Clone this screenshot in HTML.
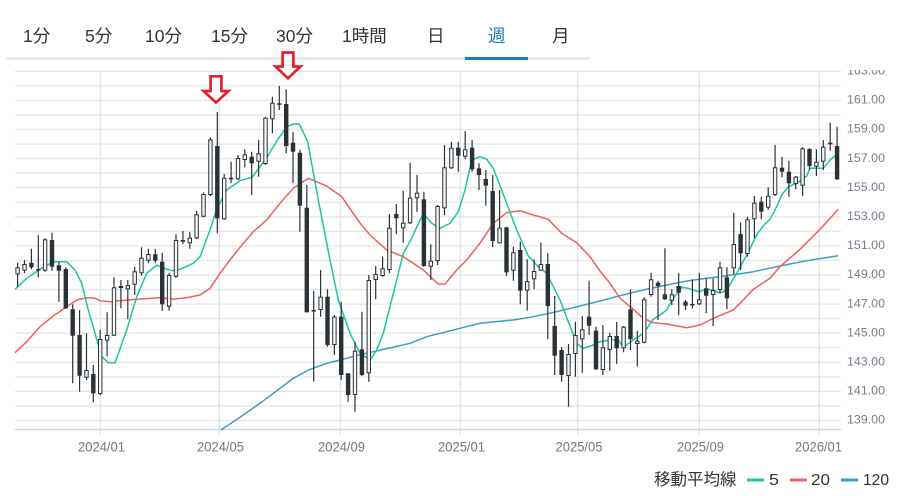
<!DOCTYPE html>
<html><head><meta charset="utf-8"><style>
html,body{margin:0;padding:0;background:#fff;width:908px;height:496px;overflow:hidden}
svg{display:block;font-family:"Liberation Sans","Noto Sans CJK JP",sans-serif}
</style></head><body>
<svg width="908" height="496" viewBox="0 0 908 496" xmlns="http://www.w3.org/2000/svg">
<defs><clipPath id="lc"><rect x="840" y="70" width="68" height="380"/></clipPath></defs>
<!-- tabs -->
<g font-size="17.5" fill="#333">
<text x="23" y="42">1分</text>
<text x="85" y="42">5分</text>
<text x="145" y="42">10分</text>
<text x="211" y="42">15分</text>
<text x="276" y="42">30分</text>
<text x="342" y="42">1時間</text>
<text x="427" y="42">日</text>
<text x="488" y="42" fill="#1a7cc2">週</text>
<text x="552" y="42">月</text>
</g>
<rect x="6" y="57" width="584" height="3" fill="#ebebeb"/>
<rect x="465" y="57" width="63" height="3" fill="#1a7cc2"/>
<!-- horizontal grid -->
<path fill="none" stroke="#e6e6e6" stroke-width="1.3" d="M15 71.3H841M15 85.85H841M15 100.4H841M15 114.95H841M15 129.5H841M15 144.05H841M15 158.6H841M15 173.15H841M15 187.7H841M15 202.25H841M15 216.8H841M15 231.35H841M15 245.9H841M15 260.45H841M15 275H841M15 289.55H841M15 304.1H841M15 318.65H841M15 333.2H841M15 347.75H841M15 362.3H841M15 376.85H841M15 391.4H841M15 405.95H841M15 420.5H841"/>
<!-- vertical grid -->
<path fill="none" stroke="#dfe3ec" stroke-width="1.3" d="M100.3 70V436M219.3 70V436M340.3 70V436M460.3 70V436M577.7 70V436M699.3 70V436M819.3 70V436"/>
<line x1="15" y1="429.5" x2="841" y2="429.5" stroke="#cfd6e4" stroke-width="1.5"/>
<!-- right labels -->
<g font-size="12" fill="#767e8c" clip-path="url(#lc)">
<text x="847" y="74.5" textLength="38" lengthAdjust="spacingAndGlyphs">163.00</text>
<text x="847" y="103.6" textLength="38" lengthAdjust="spacingAndGlyphs">161.00</text>
<text x="847" y="132.7" textLength="38" lengthAdjust="spacingAndGlyphs">159.00</text>
<text x="847" y="161.8" textLength="38" lengthAdjust="spacingAndGlyphs">157.00</text>
<text x="847" y="190.9" textLength="38" lengthAdjust="spacingAndGlyphs">155.00</text>
<text x="847" y="220" textLength="38" lengthAdjust="spacingAndGlyphs">153.00</text>
<text x="847" y="249.1" textLength="38" lengthAdjust="spacingAndGlyphs">151.00</text>
<text x="847" y="278.2" textLength="38" lengthAdjust="spacingAndGlyphs">149.00</text>
<text x="847" y="307.3" textLength="38" lengthAdjust="spacingAndGlyphs">147.00</text>
<text x="847" y="336.4" textLength="38" lengthAdjust="spacingAndGlyphs">145.00</text>
<text x="847" y="365.5" textLength="38" lengthAdjust="spacingAndGlyphs">143.00</text>
<text x="847" y="394.6" textLength="38" lengthAdjust="spacingAndGlyphs">141.00</text>
<text x="847" y="423.7" textLength="38" lengthAdjust="spacingAndGlyphs">139.00</text>
</g>
<!-- bottom labels -->
<g font-size="13.5" fill="#6f7785" text-anchor="middle">
<text x="101.5" y="451.5" textLength="47" lengthAdjust="spacingAndGlyphs">2024/01</text>
<text x="220.5" y="451.5" textLength="47" lengthAdjust="spacingAndGlyphs">2024/05</text>
<text x="341.5" y="451.5" textLength="47" lengthAdjust="spacingAndGlyphs">2024/09</text>
<text x="461.5" y="451.5" textLength="47" lengthAdjust="spacingAndGlyphs">2025/01</text>
<text x="579" y="451.5" textLength="47" lengthAdjust="spacingAndGlyphs">2025/05</text>
<text x="700.5" y="451.5" textLength="47" lengthAdjust="spacingAndGlyphs">2025/09</text>
<text x="818.5" y="451.5" textLength="47" lengthAdjust="spacingAndGlyphs">2026/01</text>
</g>
<!-- moving averages -->
<polyline fill="none" stroke="#3d9dc4" stroke-width="1.5" points="221,430 240,417.3 260,403.3 280,388.3 293.3,378.3 308.3,370 326.7,363.3 340,360 360,354.7 373.3,351.7 410,343.3 426.7,336.7 460,328.3 480,323.3 513.3,320 533.3,316.7 556.7,311.7 580,306 600,301 620,295.7 643.3,290 666.7,285 686.7,281 706.7,278.3 720,276.7 753.3,271.7 780,266 806.7,260.7 838.3,255.7"/>
<polyline fill="none" stroke="#f0605d" stroke-width="1.5" points="15,352.7 26.7,341.7 40,326.7 53.3,316 66.7,306.7 76.7,300 86.7,297.7 95,298.3 100,300.7 110,301.7 120,300.7 140,299 160,297.7 173.3,299.3 186.7,297.7 200,295 210,288.3 220,273.3 230,260 240,247.3 253.3,231.7 266.7,220 280,203.3 293.3,188.3 308.3,178.3 326.7,186 341.7,196.7 360,223 370,235 386.7,250 403.3,256.7 423.3,270 438.3,284 445,284 456.7,270 466.7,260 480,243 493.3,223.3 506.7,212.7 520,210.7 533.3,215 548.3,219.3 561.7,233.3 576.7,242.7 590,256.7 600,271 610,283.3 620,298.3 633.3,309.3 643.3,318.3 653.3,322.7 666.7,324 686.7,327.7 700,325 710,320 720,315.5 733.3,310 740,303.3 753.3,289.3 770,278.3 780,266.7 800,249.3 820,229.3 838.3,209.3"/>
<polyline fill="none" stroke="#1bc6a0" stroke-width="1.5" points="15,289.3 26.7,278.3 40,269.3 53.3,261.7 66.7,261.7 75,270 81.7,283.3 88.3,310 95,333.3 101.7,356.7 108.3,362.7 115,362.7 126.7,330 136.7,296.7 146.7,273.3 156.7,265 166.7,269.3 173.3,270.7 180,269.3 193.3,263.3 200,256.7 210,230 216.7,209.3 226.7,190 240,180.7 252,177.3 266.7,158 278,139 287,126.5 293.3,124 299.3,124 307.7,141.7 318.3,200 330,260 338.3,300 350,333.3 360,353.3 370,360 376.7,350 383.3,333.3 390,306.7 396.7,280 403.3,253.3 410,241.7 423.3,213.3 431.7,223.3 440,228.3 450,223.3 458.3,211.7 465,190 471.7,160 480,156.7 486.7,159.3 493.3,168.3 506.7,203.3 516.7,230 528.3,256 538.3,266.7 546.7,273.3 560,300 568.3,321.7 576.7,343.3 583.3,348.3 593.3,345 600,341.7 610,340 618.3,340 623.3,347.3 633.3,340 643.3,333.3 653.3,319.3 660,315 666.7,310 673.3,298.3 681.7,287.3 688.3,288.3 698.3,291.7 706.7,289.3 713,290 720,293 726.7,290 736.7,273.3 746.7,255 756.7,235 763.3,225.7 770,219.3 776.7,206.7 781.7,195 788.3,186.7 796.7,183.3 806.7,176 810,168.3 818.3,168.3 823.3,168.3 830,160 836,155"/>
<!-- wicks -->
<path fill="none" stroke="#2b3237" stroke-width="1.2" d="M17.6 262.7V286.7M24.5 260V273.3M31.4 248.7V269.3M38.3 235.3V277.3M45.1 238.3V271.7M52 232.7V270.7M58.9 261.7V301.7M65.8 267.3V309M72.7 304.3V383.3M79.6 310V391.7M86.5 333.3V380M93.3 365V402.3M100.2 330V395M107.1 312.3V356M114 277.3V336M120.9 280V308.3M127.8 280V319.3M134.7 266.7V295M141.5 247.3V275.7M148.4 248.7V263.3M155.3 248.7V263.3M162.2 252.7V311M169.1 272.7V310.7M176 234.3V278M182.9 231V244.3M189.8 232V248.7M196.6 211V239M203.5 192.3V217.3M210.4 137.3V196M217.3 112V233.3M224.2 174V220M231.1 161.7V183.3M238 155V180M244.8 149.3V167.3M251.7 151.7V195M258.6 140V176.7M265.5 116.7V165M272.4 96.7V133.3M279.3 86V110M286.2 89.3V153.3M293 132V183M299.9 150V231.7M306.8 185V312.3M313.7 291V381.7M320.6 270V316.7M327.5 289.3V346.7M334.4 315V355M341.2 301.7V380M348.1 373.3V401.7M355 341.7V411.7M361.9 311.7V376M368.8 275V381.7M375.7 266V299.3M382.6 256.7V276.7M389.4 214V273.3M396.3 204V234M403.2 191V242.7M410.1 162.7V224M417 175V211.7M423.9 191.7V266.7M430.8 244.3V280M437.6 205V265M444.5 145V215M451.4 141.7V169M458.3 141.7V171.7M465.2 131V159.3M472.1 140V171.7M479 163.3V190M485.8 170V205.7M492.7 175V247.3M499.6 190V243.3M506.5 226.7V276M513.4 246.7V280.7M520.3 241.7V304.3M527.2 259.3V310.7M534.1 259.3V289.3M540.9 242.7V270.7M547.8 253.3V339.3M554.7 296V375M561.6 347.3V381.7M568.5 344V406.7M575.4 321.7V376.7M582.3 316V372.7M589.1 280.7V335M596 326.7V370M602.9 325V375M609.8 332.7V370.7M616.7 321.7V364M623.6 326V352.3M630.5 289.3V350M637.3 330.7V366.7M644.2 297.3V343.3M651.1 272.7V296.7M658 280.7V320M664.9 248.3V300M671.8 289.3V305M678.7 273.3V315M685.5 300V310M692.4 279.3V308.3M699.3 272.7V305M706.2 278.3V313.3M713.1 278.3V326M720 261.7V293M726.9 267.3V309.3M733.8 212.7V274.3M740.6 222.7V270M747.5 216.7V256.7M754.4 196V238.3M761.3 196.7V219.3M768.2 187.3V210M775.1 145V196M782 156.7V177.3M788.9 160.7V196.7M795.7 176V189.3M802.6 147.3V196M809.5 148.3V170M816.4 149.3V176M823.3 140V170M830.2 122.7V150.7M837.1 126.7V180"/>
<!-- dark bodies -->
<g fill="#2b3237">
<rect x="29.2" y="262.7" width="4.4" height="4.6"/><rect x="36.1" y="269" width="4.4" height="1.5"/><rect x="49.8" y="240" width="4.4" height="26.7"/><rect x="56.7" y="265.3" width="4.4" height="5.4"/><rect x="63.6" y="269" width="4.4" height="39.3"/><rect x="70.5" y="309.3" width="4.4" height="26.4"/><rect x="77.4" y="335" width="4.4" height="40.7"/><rect x="91.1" y="374" width="4.4" height="19.3"/><rect x="118.7" y="286" width="4.4" height="2"/><rect x="153.1" y="254.3" width="4.4" height="6.4"/><rect x="160" y="261.7" width="4.4" height="42.6"/><rect x="180.7" y="240" width="4.4" height="1.7"/><rect x="215.1" y="146" width="4.4" height="72.3"/><rect x="228.9" y="177.7" width="4.4" height="1.6"/><rect x="249.5" y="156.7" width="4.4" height="6.6"/><rect x="277.1" y="103.3" width="4.4" height="1.5"/><rect x="284" y="104" width="4.4" height="42"/><rect x="290.8" y="142.7" width="4.4" height="9"/><rect x="297.7" y="152.7" width="4.4" height="53"/><rect x="304.6" y="207.7" width="4.4" height="104.6"/><rect x="311.5" y="310" width="4.4" height="1.5"/><rect x="325.3" y="296.7" width="4.4" height="48.3"/><rect x="339" y="316.7" width="4.4" height="58.3"/><rect x="345.9" y="373.3" width="4.4" height="21.7"/><rect x="359.7" y="349.3" width="4.4" height="25.7"/><rect x="394.1" y="214" width="4.4" height="4.3"/><rect x="421.7" y="199.3" width="4.4" height="66.7"/><rect x="456.1" y="147.7" width="4.4" height="8"/><rect x="469.9" y="147.7" width="4.4" height="21.6"/><rect x="476.8" y="168.3" width="4.4" height="6.7"/><rect x="483.6" y="179" width="4.4" height="6.7"/><rect x="490.5" y="191" width="4.4" height="50"/><rect x="504.3" y="227.3" width="4.4" height="45"/><rect x="518.1" y="250" width="4.4" height="40.7"/><rect x="545.6" y="264" width="4.4" height="42"/><rect x="552.5" y="326" width="4.4" height="29.7"/><rect x="559.4" y="350" width="4.4" height="25"/><rect x="586.9" y="316.7" width="4.4" height="9"/><rect x="593.8" y="330.7" width="4.4" height="38.6"/><rect x="614.5" y="336" width="4.4" height="12.3"/><rect x="628.3" y="309.3" width="4.4" height="30"/><rect x="655.8" y="282.7" width="4.4" height="3.3"/><rect x="662.7" y="294.3" width="4.4" height="5"/><rect x="676.5" y="286" width="4.4" height="6.7"/><rect x="683.3" y="301.7" width="4.4" height="4"/><rect x="690.2" y="304" width="4.4" height="1.5"/><rect x="704" y="288.3" width="4.4" height="7.4"/><rect x="724.7" y="277.3" width="4.4" height="21"/><rect x="738.4" y="234" width="4.4" height="19.3"/><rect x="759.1" y="201.7" width="4.4" height="10"/><rect x="779.8" y="167.7" width="4.4" height="4"/><rect x="786.7" y="171.7" width="4.4" height="11.6"/><rect x="807.3" y="149" width="4.4" height="17"/><rect x="828" y="142.7" width="4.4" height="1.6"/><rect x="834.9" y="146" width="4.4" height="33.3"/>
</g>
<!-- hollow bodies -->
<g fill="#f6f6f6" stroke="#2b3237" stroke-width="1">
<rect x="15.9" y="267.8" width="3.4" height="6"/><rect x="22.8" y="264.5" width="3.4" height="5.7"/><rect x="43.4" y="239.8" width="3.4" height="30.4"/><rect x="84.8" y="370.5" width="3.4" height="6.7"/><rect x="98.5" y="339.5" width="3.4" height="54"/><rect x="105.4" y="335.5" width="3.4" height="4.7"/><rect x="112.3" y="287.8" width="3.4" height="47.4"/><rect x="126.1" y="285.5" width="3.4" height="3.3"/><rect x="133" y="271.8" width="3.4" height="12.4"/><rect x="139.8" y="258.2" width="3.4" height="14.6"/><rect x="146.7" y="254.5" width="3.4" height="5.7"/><rect x="167.4" y="275.5" width="3.4" height="30.7"/><rect x="174.3" y="240.5" width="3.4" height="35.7"/><rect x="188.1" y="238.2" width="3.4" height="4.6"/><rect x="194.9" y="214.8" width="3.4" height="23"/><rect x="201.8" y="194.5" width="3.4" height="21.7"/><rect x="208.7" y="139.8" width="3.4" height="54.7"/><rect x="222.5" y="178.2" width="3.4" height="40.6"/><rect x="236.3" y="158.5" width="3.4" height="20.3"/><rect x="243.1" y="154.8" width="3.4" height="4.7"/><rect x="256.9" y="153.8" width="3.4" height="7.4"/><rect x="263.8" y="118.2" width="3.4" height="45.3"/><rect x="270.7" y="103.2" width="3.4" height="15.6"/><rect x="318.9" y="297.2" width="3.4" height="12.3"/><rect x="332.7" y="317.2" width="3.4" height="27.3"/><rect x="353.3" y="351.2" width="3.4" height="43.3"/><rect x="367.1" y="280.5" width="3.4" height="92.3"/><rect x="374" y="274.5" width="3.4" height="5"/><rect x="380.9" y="268.8" width="3.4" height="6.7"/><rect x="387.7" y="228.2" width="3.4" height="41.3"/><rect x="401.5" y="223.2" width="3.4" height="4.6"/><rect x="408.4" y="198.2" width="3.4" height="24.6"/><rect x="415.3" y="193.2" width="3.4" height="4.6"/><rect x="429.1" y="261.2" width="3.4" height="5"/><rect x="435.9" y="206.5" width="3.4" height="54"/><rect x="442.8" y="167.8" width="3.4" height="40"/><rect x="449.7" y="148.2" width="3.4" height="19.6"/><rect x="463.5" y="149.8" width="3.4" height="6.4"/><rect x="497.9" y="228.2" width="3.4" height="14.6"/><rect x="511.7" y="252.8" width="3.4" height="17.4"/><rect x="525.5" y="281.5" width="3.4" height="8.7"/><rect x="532.4" y="271.5" width="3.4" height="7.3"/><rect x="539.2" y="264.5" width="3.4" height="5.7"/><rect x="566.8" y="354.5" width="3.4" height="21"/><rect x="573.7" y="335.5" width="3.4" height="18"/><rect x="580.6" y="329.8" width="3.4" height="9"/><rect x="601.2" y="347.8" width="3.4" height="21.7"/><rect x="608.1" y="336.5" width="3.4" height="13"/><rect x="621.9" y="327.2" width="3.4" height="20.6"/><rect x="635.6" y="341.2" width="3.4" height="2.3"/><rect x="642.5" y="299.8" width="3.4" height="42.4"/><rect x="649.4" y="279.8" width="3.4" height="14.7"/><rect x="670.1" y="294.8" width="3.4" height="5.4"/><rect x="697.6" y="299.8" width="3.4" height="4"/><rect x="711.4" y="290.5" width="3.4" height="4"/><rect x="718.3" y="267.8" width="3.4" height="21.7"/><rect x="732.1" y="244.5" width="3.4" height="23.3"/><rect x="745.8" y="219.8" width="3.4" height="33.7"/><rect x="752.7" y="203.2" width="3.4" height="15.6"/><rect x="766.5" y="196.2" width="3.4" height="11"/><rect x="773.4" y="167.8" width="3.4" height="26.7"/><rect x="794" y="177.2" width="3.4" height="6.3"/><rect x="800.9" y="148.8" width="3.4" height="36.4"/><rect x="814.7" y="162.2" width="3.4" height="4"/><rect x="821.6" y="147.2" width="3.4" height="14"/>
</g>
<!-- arrows -->
<g fill="#fff" stroke="#e5202a" stroke-width="2.7" stroke-linejoin="miter">
<polygon points="210.6,76.3 221.4,76.3 221.4,91 228.5,91 216,102.5 203.5,91 210.6,91"/>
<polygon points="282.6,52.5 293.4,52.5 293.4,66.5 300.5,66.5 288,78.3 275.5,66.5 282.6,66.5"/>
</g>
<!-- legend -->
<text x="654" y="485" font-size="16.5" fill="#333">移動平均線</text>
<rect x="747" y="478.5" width="17" height="3" fill="#1bc6a0"/>
<text x="769" y="485" font-size="16" fill="#333" textLength="10" lengthAdjust="spacingAndGlyphs">5</text>
<rect x="790" y="478.5" width="17" height="3" fill="#f0605d"/>
<text x="811" y="485" font-size="16" fill="#333" textLength="19" lengthAdjust="spacingAndGlyphs">20</text>
<rect x="841" y="478.5" width="17" height="3" fill="#3d9dc4"/>
<text x="863" y="485" font-size="16" fill="#333" textLength="26" lengthAdjust="spacingAndGlyphs">120</text>
</svg>
</body></html>
